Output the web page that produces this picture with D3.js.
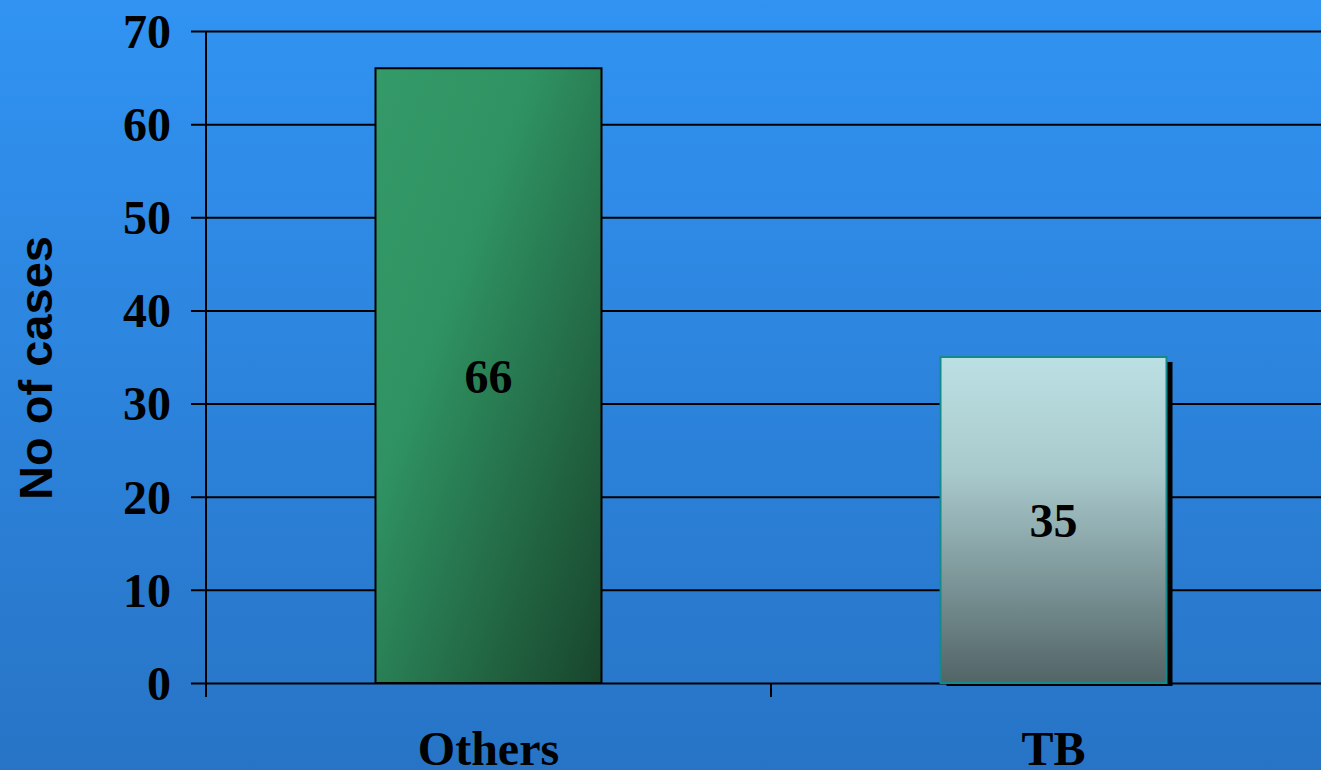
<!DOCTYPE html>
<html>
<head>
<meta charset="utf-8">
<script src="https://cdn.jsdelivr.net/npm/d3@7"></script>
<style>
  html, body { margin: 0; padding: 0; overflow: hidden; }
  svg { display: block; }
</style>
</head>
<body>
<script>
const categories = ["Others", "TB"];
const values = [66, 35];
const yTicks = [0, 10, 20, 30, 40, 50, 60, 70];
const yTitle = "No of cases";

const W = 1321, H = 770;
const svg = d3.select("body").append("svg").attr("width", W).attr("height", H);
const defs = svg.append("defs");

const bg = defs.append("linearGradient").attr("id", "bg").attr("x1", 0).attr("y1", 0).attr("x2", 0).attr("y2", 1);
bg.append("stop").attr("offset", "0%").attr("stop-color", "#3193f2");
bg.append("stop").attr("offset", "100%").attr("stop-color", "#2774c6");

const g1 = defs.append("linearGradient").attr("id", "g1").attr("x1", 0).attr("y1", 0).attr("x2", 1).attr("y2", 1);
g1.append("stop").attr("offset", "0%").attr("stop-color", "#349a68");
g1.append("stop").attr("offset", "35%").attr("stop-color", "#2f9262");
g1.append("stop").attr("offset", "100%").attr("stop-color", "#18452c");

const g2 = defs.append("linearGradient").attr("id", "g2").attr("x1", 0).attr("y1", 0).attr("x2", 0).attr("y2", 1);
g2.append("stop").attr("offset", "0%").attr("stop-color", "#bbe0e3");
g2.append("stop").attr("offset", "35%").attr("stop-color", "#a9cacd");
g2.append("stop").attr("offset", "100%").attr("stop-color", "#526466");

svg.append("rect").attr("width", W).attr("height", H).attr("fill", "url(#bg)");

const x0 = 206, x1 = 1336, yTop = 31, yBot = 683;
const x = d3.scaleBand().domain(categories).range([x0, x1]).paddingInner(0).paddingOuter(0);
const y = d3.scaleLinear().domain([0, 70]).range([yBot, yTop]);

// gridlines + y ticks
const yAxis = d3.axisLeft(y).tickValues(yTicks).tickSize(-(W - x0 + 20)).tickSizeOuter(0).tickPadding(20);
const gy = svg.append("g").attr("transform", `translate(${x0},0)`).call(yAxis);
gy.select(".domain").remove();
gy.selectAll(".tick line").attr("x1", -15).attr("x2", W - x0).attr("stroke", "#000").attr("stroke-width", 2);
gy.selectAll(".tick text")
  .attr("x", -35)
  .attr("font-family", "'Liberation Serif', 'Times New Roman', serif")
  .attr("font-weight", "bold").attr("font-size", 48).attr("fill", "#000")
  .attr("dy", "0.34em");

// y axis line
svg.append("line").attr("x1", x0).attr("x2", x0).attr("y1", yTop).attr("y2", yBot + 14)
  .attr("stroke", "#000").attr("stroke-width", 2);

// x axis ticks at band boundaries
const bounds = categories.map(c => x(c));
svg.selectAll(".xtick").data(bounds).enter().append("line")
  .attr("x1", d => d).attr("x2", d => d).attr("y1", yBot).attr("y2", yBot + 14)
  .attr("stroke", "#000").attr("stroke-width", 2);

// bars
const bw = x.bandwidth() * 0.4;
const data = categories.map((c, i) => ({ c, v: values[i], i }));
const bx = d => x(d.c) + (x.bandwidth() - bw) / 2;

// shadow for TB
svg.selectAll(".shadow").data(data.filter(d => d.i === 1)).enter().append("rect")
  .attr("x", d => bx(d) + 6).attr("y", d => y(d.v) + 5)
  .attr("width", bw).attr("height", d => yBot - y(d.v) - 2)
  .attr("fill", "#000");

svg.selectAll(".bar").data(data).enter().append("rect")
  .attr("x", bx).attr("y", d => y(d.v))
  .attr("width", bw).attr("height", d => yBot - y(d.v))
  .attr("fill", d => d.i === 0 ? "url(#g1)" : "url(#g2)")
  .attr("stroke", d => d.i === 0 ? "#000" : "#148a8c")
  .attr("stroke-width", 2);

// value labels
svg.selectAll(".val").data(data).enter().append("text")
  .attr("x", d => x(d.c) + x.bandwidth() / 2)
  .attr("y", d => (y(d.v) + yBot) / 2)
  .attr("dy", "0.36em")
  .attr("text-anchor", "middle")
  .attr("font-family", "'Liberation Serif', 'Times New Roman', serif")
  .attr("font-weight", "bold").attr("font-size", 48).attr("fill", "#000")
  .text(d => d.v);

// category labels
svg.selectAll(".cat").data(categories).enter().append("text")
  .attr("x", d => x(d) + x.bandwidth() / 2)
  .attr("y", 765)
  .attr("text-anchor", "middle")
  .attr("font-family", "'Liberation Serif', 'Times New Roman', serif")
  .attr("font-weight", "bold").attr("font-size", 48).attr("fill", "#000")
  .text(d => d);

// y title
svg.append("text")
  .attr("transform", "translate(52,368) rotate(-90)")
  .attr("text-anchor", "middle")
  .attr("font-family", "'Liberation Sans', Arial, sans-serif")
  .attr("font-weight", "bold").attr("font-size", 47).attr("fill", "#000")
  .text(yTitle);
</script>
</body>
</html>
